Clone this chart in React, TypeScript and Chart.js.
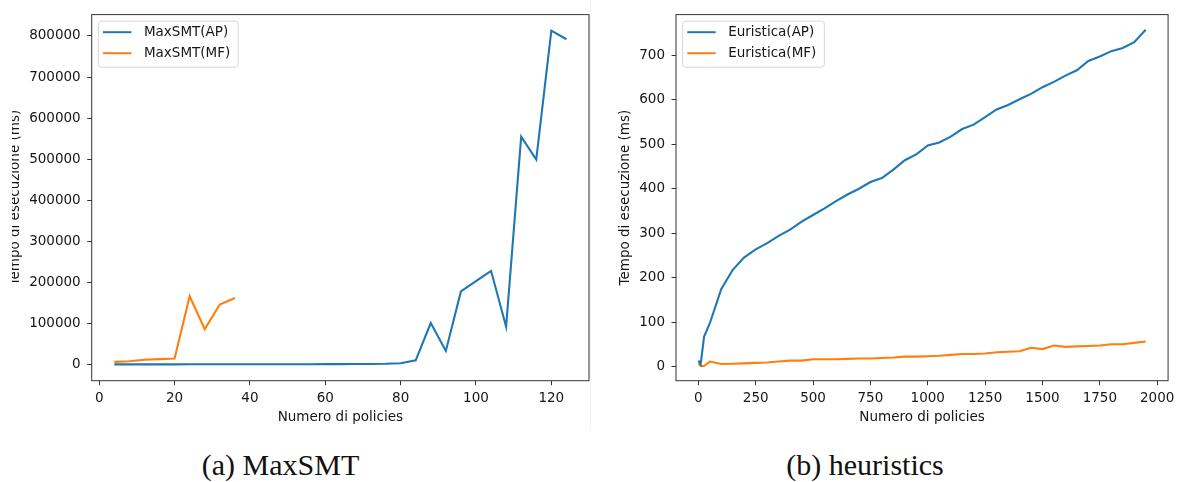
import React, { useEffect, useRef } from "react";
import { Chart, registerables } from "chart.js";

Chart.register(...registerables);

// ---------- DATA ----------
// (a) MaxSMT
const maxsmtPoliciesAP = [4, 8, 12, 16, 20, 24, 28, 32, 36, 40, 44, 48, 52, 56, 60, 64, 68, 72, 76, 80, 84, 88, 92, 96, 100, 104, 108, 112, 116, 120, 124];
const maxsmtAP = [300, 300, 300, 300, 350, 400, 400, 450, 500, 500, 550, 600, 650, 700, 800, 900, 1100, 1300, 1600, 3000, 10000, 101000, 33000, 178000, 203000, 228000, 92000, 555000, 499000, 813000, 792000];
const maxsmtPoliciesMF = [4, 8, 12, 16, 20, 24, 28, 32, 36];
const maxsmtMF = [6400, 8000, 11500, 13000, 14400, 166000, 86000, 146000, 162000];

// (b) heuristics
const heurPolicies = [0, 10, 25, 50, 100, 150, 200, 250, 300, 350, 400, 450, 500, 550, 600, 650, 700, 750, 800, 850, 900, 950, 1000, 1050, 1100, 1150, 1200, 1250, 1300, 1350, 1400, 1450, 1500, 1550, 1600, 1650, 1700, 1750, 1800, 1850, 1900, 1950];
const heurAP = [14, 6, 68, 98, 175, 218, 246, 264, 278, 294, 308, 326, 341, 356, 372, 387, 400, 415, 424, 443, 464, 477, 497, 504, 517, 534, 544, 561, 578, 588, 601, 613, 628, 640, 654, 666, 687, 697, 709, 716, 729, 757];
const heurMF = [8, 2, 2, 12, 6.5, 7, 8, 9, 10, 12, 14, 14, 17, 17, 17, 18, 19, 19, 20, 21, 23, 23, 24, 25, 27, 29, 29, 30, 33, 34, 35, 43, 40, 48, 45, 46, 47, 48, 51, 51, 54, 57];

// tick labels
const maxsmtXTicks = [0, 20, 40, 60, 80, 100, 120];
const maxsmtYTicks = [0, 100000, 200000, 300000, 400000, 500000, 600000, 700000, 800000];
const heurXTicks = [0, 250, 500, 750, 1000, 1250, 1500, 1750, 2000];
const heurYTicks = [0, 100, 200, 300, 400, 500, 600, 700];

const xTitle = "Numero di policies";
const yTitle = "Tempo di esecuzione (ms)";
const captionA = "(a) MaxSMT";
const captionB = "(b) heuristics";

const BLUE = "#1f77b4";
const ORANGE = "#ff7f0e";
const TEXT = "#161616";
const FONT = { family: "'DejaVu Sans', sans-serif", size: 13.5, lineHeight: 1.2 };

const framePlugin = {
  id: "mplFrame",
  afterDatasetsDraw(chart: any) {
    const { ctx, chartArea: a } = chart;
    ctx.save();
    ctx.strokeStyle = "#333";
    ctx.lineWidth = 1;
    ctx.strokeRect(a.left, a.top, a.right - a.left, a.bottom - a.top);

    // matplotlib-like legend in upper-left corner
    ctx.font = "13.5px 'DejaVu Sans', sans-serif";
    const ds = chart.data.datasets;
    let maxW = 0;
    ds.forEach((d: any) => (maxW = Math.max(maxW, ctx.measureText(d.label).width)));
    const bx = a.left + 6.7;
    const by = a.top + 6.6;
    const bw = 45.5 + maxW + 8;
    const bh = 46;
    ctx.beginPath();
    ctx.roundRect(bx, by, bw, bh, 3);
    ctx.fillStyle = "rgba(255,255,255,0.8)";
    ctx.fill();
    ctx.strokeStyle = "#d6d6d6";
    ctx.lineWidth = 1;
    ctx.stroke();
    ds.forEach((d: any, i: number) => {
      const y = by + 11 + i * 21;
      ctx.beginPath();
      ctx.moveTo(bx + 4.6, y);
      ctx.lineTo(bx + 33, y);
      ctx.strokeStyle = d.borderColor;
      ctx.lineWidth = 2;
      ctx.stroke();
      ctx.fillStyle = TEXT;
      ctx.textBaseline = "middle";
      ctx.textAlign = "left";
      ctx.fillText(d.label, bx + 45.5, y + 0.5);
    });
    ctx.restore();
  },
};

type Series = { label: string; xs: number[]; ys: number[]; color: string };

function makeConfig(p: {
  series: Series[];
  xMin: number; xMax: number; yMin: number; yMax: number;
  xTicks: number[]; yTicks: number[];
  yAxisWidth: number; yTitlePad: number; padRight: number;
}) {
  return {
    type: "line" as const,
    data: {
      datasets: p.series.map((s) => ({
        label: s.label,
        data: s.xs.map((x, i) => ({ x, y: s.ys[i] })),
        borderColor: s.color,
        backgroundColor: s.color,
        borderWidth: 2.1,
        pointRadius: 0,
        tension: 0,
        fill: false,
      })),
    },
    options: {
      animation: false,
      responsive: false,
      maintainAspectRatio: false,
      layout: { padding: { left: 0, top: 10.7, right: p.padRight, bottom: 0 } },
      plugins: { legend: { display: false }, tooltip: { enabled: false } },
      scales: {
        x: {
          type: "linear",
          min: p.xMin,
          max: p.xMax,
          afterBuildTicks: (s: any) => { s.ticks = p.xTicks.map((v) => ({ value: v })); },
          afterFit: (s: any) => { s.height = 49.3; },
          grid: { display: true, drawOnChartArea: false, drawTicks: true, tickLength: 4.5, color: "#333" },
          border: { display: false },
          ticks: { font: FONT, color: TEXT, padding: 5.5, maxRotation: 0, autoSkip: false, callback: (v: any) => String(v) },
          title: { display: true, text: xTitle, font: FONT, color: TEXT, padding: { top: 0, bottom: 4.6 } },
        },
        y: {
          type: "linear",
          min: p.yMin,
          max: p.yMax,
          afterBuildTicks: (s: any) => { s.ticks = p.yTicks.map((v) => ({ value: v })); },
          afterFit: (s: any) => { s.width = p.yAxisWidth; },
          grid: { display: true, drawOnChartArea: false, drawTicks: true, tickLength: 4.5, color: "#333" },
          border: { display: false },
          ticks: { font: FONT, color: TEXT, padding: 6.5, autoSkip: false, callback: (v: any) => String(v) },
          title: { display: true, text: yTitle, font: FONT, color: TEXT, padding: { top: p.yTitlePad, bottom: 0 } },
        },
      },
    },
    plugins: [framePlugin],
  };
}

function ChartCanvas({ config, width, height }: { config: any; width: number; height: number }) {
  const ref = useRef<HTMLCanvasElement | null>(null);
  useEffect(() => {
    if (!ref.current) return;
    const c = new Chart(ref.current, config);
    return () => c.destroy();
  }, []);
  return <canvas ref={ref} width={width} height={height} style={{ width, height, display: "block" }} />;
}

export default function App() {
  const left = makeConfig({
    series: [
      { label: "MaxSMT(AP)", xs: maxsmtPoliciesAP, ys: maxsmtAP, color: BLUE },
      { label: "MaxSMT(MF)", xs: maxsmtPoliciesMF, ys: maxsmtMF, color: ORANGE },
    ],
    xMin: -2, xMax: 130, yMin: -39500, yMax: 852000,
    xTicks: maxsmtXTicks, yTicks: maxsmtYTicks,
    yAxisWidth: 91.7, yTitlePad: 7.8, padRight: 1,
  });
  const right = makeConfig({
    series: [
      { label: "Euristica(AP)", xs: heurPolicies, ys: heurAP, color: BLUE },
      { label: "Euristica(MF)", xs: heurPolicies, ys: heurMF, color: ORANGE },
    ],
    xMin: -97.5, xMax: 2047.5, yMin: -31, yMax: 791,
    xTicks: heurXTicks, yTicks: heurYTicks,
    yAxisWidth: 86, yTitlePad: 27.5, padRight: 6.7,
  });
  const captionStyle: React.CSSProperties = {
    position: "absolute",
    top: 450,
    width: 400,
    textAlign: "center",
    fontFamily: "'Liberation Serif', serif",
    fontSize: 30,
    lineHeight: "30px",
    color: "#111",
    whiteSpace: "nowrap",
  };
  return (
    <div style={{ position: "fixed", left: 0, top: 0, width: 1180, height: 482, background: "#fff", overflow: "hidden" }}>
      <div style={{ position: "absolute", left: 12, top: 0, width: 578, height: 430, overflow: "hidden" }}>
        <div style={{ position: "absolute", left: -12, top: 0 }}>
          <ChartCanvas config={left} width={590} height={430} />
        </div>
      </div>
      <div style={{ position: "absolute", left: 590, top: 0, width: 1, height: 430, background: "#f2f2f2" }} />
      <div style={{ position: "absolute", left: 590, top: 0 }}>
        <ChartCanvas config={right} width={590} height={430} />
      </div>
      <div style={{ ...captionStyle, left: 280.5 - 200 }}>{captionA}</div>
      <div style={{ ...captionStyle, left: 865 - 200 }}>{captionB}</div>
    </div>
  );
}
